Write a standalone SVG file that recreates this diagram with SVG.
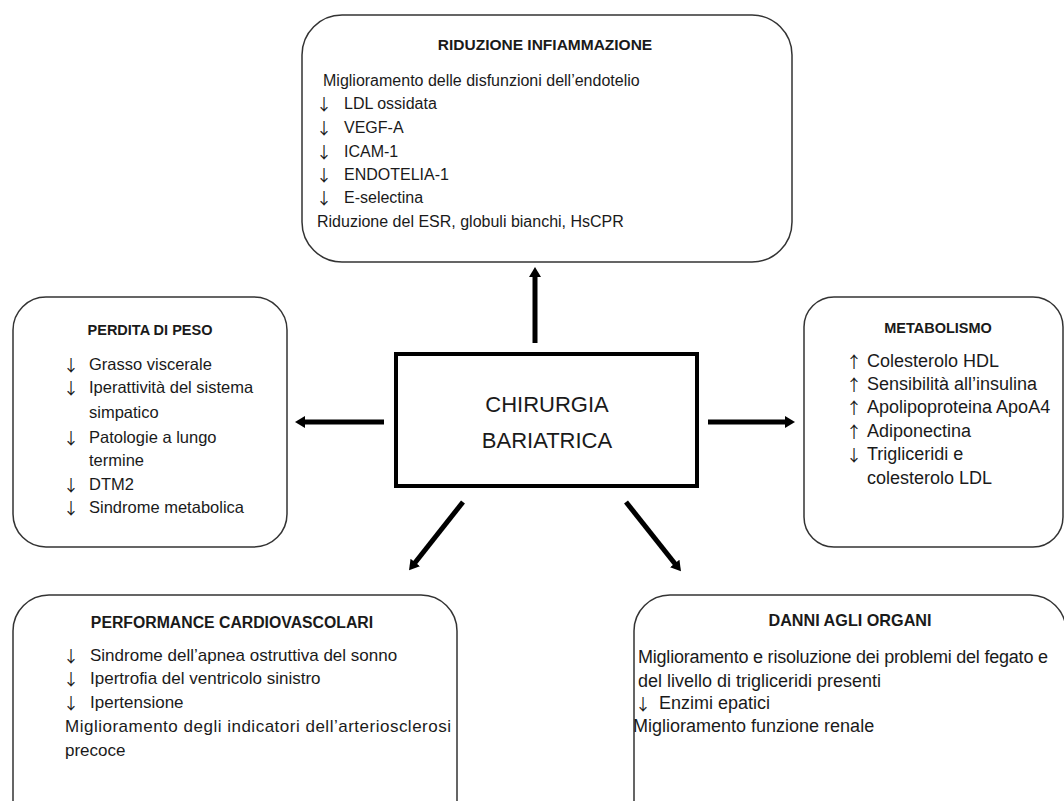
<svg xmlns="http://www.w3.org/2000/svg" width="1064" height="801" viewBox="0 0 1064 801">
<defs>
<style>
.box{fill:#fff;stroke:#333;stroke-width:1.5}
text{font-family:"Liberation Sans",Arial,sans-serif;fill:#1a1a1a}
.h{font-weight:bold;text-anchor:middle}
.a{font-family:"Noto Sans CJK SC","DejaVu Sans",sans-serif;font-size:16px}
.c{font-size:22px;text-anchor:middle}
.s16{font-size:16px}
.s165{font-size:16.5px}
.s17{font-size:17px}
.s18{font-size:18px}
.conn{stroke:#000;stroke-width:5;fill:none;marker-end:url(#ah)}
</style>
<marker id="ah" markerUnits="userSpaceOnUse" markerWidth="12" markerHeight="12" refX="2" refY="6" orient="auto">
<path d="M0,0 L10,6 L0,12 z" fill="#000"/>
</marker>
</defs>
<rect width="1064" height="801" fill="#fff"/>

<g id="connectors">
<line class="conn" x1="535" y1="343" x2="535" y2="275"/>
<line class="conn" x1="384" y1="422" x2="303" y2="422"/>
<line class="conn" x1="708" y1="422" x2="787" y2="422"/>
<line class="conn" x1="463" y1="502" x2="414" y2="564"/>
<line class="conn" x1="626" y1="502" x2="676" y2="565"/>
</g>

<g id="center">
<rect x="396" y="354" width="301" height="132" fill="#fff" stroke="#000" stroke-width="4"/>
<text class="c" x="547" y="412">CHIRURGIA</text>
<text class="c" x="547" y="448">BARIATRICA</text>
</g>

<g id="riduzione">
<rect class="box" x="302" y="15" width="490" height="247" rx="40" ry="40"/>
<text class="h" x="545" y="50" font-size="15.5">RIDUZIONE INFIAMMAZIONE</text>
<g class="s16">
<text x="323" y="86">Miglioramento delle disfunzioni dell’endotelio</text>
<text x="344" y="109">LDL ossidata</text>
<text x="344" y="133">VEGF-A</text>
<text x="344" y="157">ICAM-1</text>
<text x="344" y="180">ENDOTELIA-1</text>
<text x="344" y="203">E-selectina</text>
<text x="317" y="227">Riduzione del ESR, globuli bianchi, HsCPR</text>
</g>
<text class="a" x="316" y="110">↓</text>
<text class="a" x="316" y="134">↓</text>
<text class="a" x="316" y="158">↓</text>
<text class="a" x="316" y="181">↓</text>
<text class="a" x="316" y="204">↓</text>
</g>

<g id="perdita">
<rect class="box" x="13" y="297" width="274" height="250" rx="33" ry="33"/>
<text class="h" x="150" y="335" font-size="14.5">PERDITA DI PESO</text>
<g class="s165">
<text x="89" y="370">Grasso viscerale</text>
<text x="89" y="393">Iperattività del sistema</text>
<text x="89" y="418">simpatico</text>
<text x="89" y="443">Patologie a lungo</text>
<text x="89" y="466">termine</text>
<text x="89" y="490">DTM2</text>
<text x="89" y="513">Sindrome metabolica</text>
</g>
<text class="a" x="63" y="371">↓</text>
<text class="a" x="63" y="394">↓</text>
<text class="a" x="63" y="444">↓</text>
<text class="a" x="63" y="491">↓</text>
<text class="a" x="63" y="514">↓</text>
</g>

<g id="metabolismo">
<rect class="box" x="804" y="297" width="259" height="250" rx="30" ry="30"/>
<text class="h" x="938" y="333" font-size="14.5">METABOLISMO</text>
<g class="s18">
<text x="867" y="367">Colesterolo HDL</text>
<text x="867" y="390">Sensibilità all’insulina</text>
<text x="867" y="413">Apolipoproteina ApoA4</text>
<text x="867" y="437">Adiponectina</text>
<text x="867" y="460">Trigliceridi e</text>
<text x="867" y="484">colesterolo LDL</text>
</g>
<text class="a" x="846" y="368">↑</text>
<text class="a" x="846" y="391">↑</text>
<text class="a" x="846" y="414">↑</text>
<text class="a" x="846" y="438">↑</text>
<text class="a" x="846" y="461">↓</text>
</g>

<g id="performance">
<rect class="box" x="13" y="595" width="444" height="260" rx="36" ry="36"/>
<text class="h" x="232" y="628" font-size="15.8">PERFORMANCE CARDIOVASCOLARI</text>
<g class="s17">
<text x="90" y="661">Sindrome dell’apnea ostruttiva del sonno</text>
<text x="90" y="684">Ipertrofia del ventricolo sinistro</text>
<text x="90" y="708">Ipertensione</text>
<text x="65" y="732" textLength="386">Miglioramento degli indicatori dell’arteriosclerosi</text>
<text x="65" y="756">precoce</text>
</g>
<text class="a" x="63" y="662">↓</text>
<text class="a" x="63" y="685">↓</text>
<text class="a" x="63" y="709">↓</text>
</g>

<g id="danni">
<rect class="box" x="634" y="595" width="432" height="260" rx="36" ry="36"/>
<text class="h" x="850" y="626" font-size="16.2">DANNI AGLI ORGANI</text>
<g class="s18">
<text x="638" y="663" textLength="410">Miglioramento e risoluzione dei problemi del fegato e</text>
<text x="638" y="687">del livello di trigliceridi presenti</text>
<text x="659" y="709">Enzimi epatici</text>
<text x="633" y="732">Miglioramento funzione renale</text>
</g>
<text class="a" x="635" y="710">↓</text>
</g>
</svg>
